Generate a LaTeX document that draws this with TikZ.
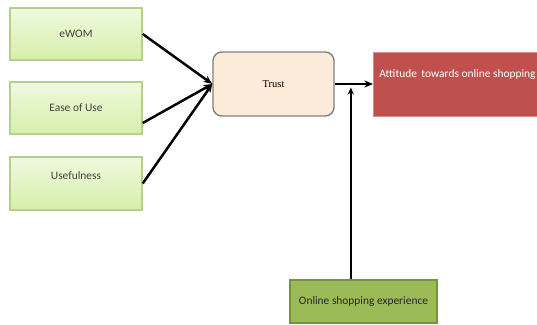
\documentclass[tikz,border=0pt]{standalone}
\usepackage{fontspec}
\setmainfont{Carlito}
\newfontfamily\trustfont{Liberation Serif}
\usepackage{tikz}
\usetikzlibrary{arrows.meta, positioning, calc}
\definecolor{boxgreentop}{HTML}{EFF9DE}
\definecolor{boxgreenbot}{HTML}{D6EFAA}
\definecolor{boxgreenline}{HTML}{B7CF8C}
\definecolor{trustfill}{HTML}{FDEBDA}
\definecolor{attfill}{HTML}{C0504D}
\definecolor{attline}{HTML}{D88F8C}
\definecolor{expfill}{HTML}{9BBB59}
\definecolor{expline}{HTML}{77933C}

\begin{document}
\begin{tikzpicture}[
    factor/.style={draw=boxgreenline, line width=0.8pt, top color=boxgreentop, bottom color=boxgreenbot, minimum width=2.64cm, minimum height=1.04cm, align=center, text=black!75, font=\fontsize{6.5}{7}\selectfont},
    trustbox/.style={draw=black!50, line width=0.8pt, fill=trustfill, rounded corners=5pt, minimum width=2.42cm, minimum height=1.28cm, font=\trustfont\fontsize{6}{7}\selectfont},
    outcome/.style={draw=attline, line width=0.5pt, fill=attfill, minimum width=3.2cm, minimum height=1.28cm, text=white, text depth=0.4cm, font=\fontsize{6.5}{7}\selectfont},
    moderator/.style={draw=expline, line width=0.8pt, fill=expfill, minimum width=2.94cm, minimum height=0.86cm, text=black!85, font=\fontsize{6.5}{7}\selectfont},
    signal/.style={-{Stealth[length=5pt, width=4pt]}, line width=1.4pt},
    thin signal/.style={-{Stealth[length=4pt, width=3.5pt]}, line width=1pt}
]
\useasboundingbox (0,0) rectangle (10.74,-6.5);

% Predictors
\node[factor] (ewom) at (1.52,-0.68) {eWOM};
\node[factor] (ease) at (1.52,-2.16) {Ease of Use};
\node[factor, minimum height=1.06cm, text depth=0.3cm] (useful) at (1.52,-3.67) {Usefulness};

% Trust
\node[trustbox] (trust) at (5.47,-1.68) {Trust};

% Attitude
\node[outcome] (att) at (9.15,-1.68) {Attitude\, towards online shopping};

% Online shopping experience
\node[moderator] (exp) at (7.27,-6.03) {Online shopping experience};

% Predictors to trust
\draw[signal] (ewom.east) -- (trust.west);
\draw[signal] ($(ease.east)+(0,-0.3)$) -- (trust.west);
\draw[signal] (useful.east) -- (trust.west);

% Trust to attitude
\draw[signal] (trust.east) -- (att.west);

% Experience into the trust-attitude link
\coordinate (meet) at ($(trust.east)!0.42!(att.west)+(0,-0.07)$);
\draw[thin signal] (meet |- exp.north) -- (meet);

\end{tikzpicture}
\end{document}
